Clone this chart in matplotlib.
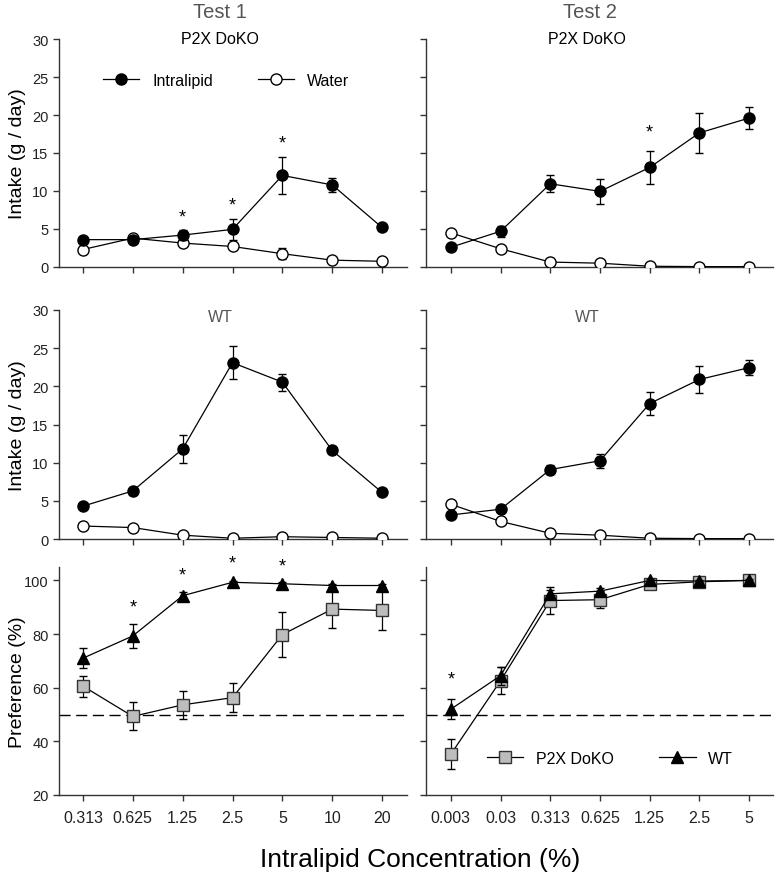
import numpy as np
import matplotlib
matplotlib.use("Agg")
import matplotlib.pyplot as plt

plt.rcParams['font.family'] = ['Liberation Sans', 'DejaVu Sans']

test1_labels = ['0.313', '0.625', '1.25', '2.5', '5', '10', '20']
test2_labels = ['0.003', '0.03', '0.313', '0.625', '1.25', '2.5', '5']

# Test 1, P2X DoKO intake
t1_ko_lipid = [3.6, 3.6, 4.2, 4.95, 12.05, 10.8, 5.2]
t1_ko_lipid_err = [0.3, 0.3, 0.7, 1.4, 2.4, 0.9, 0.3]
t1_ko_water = [2.3, 3.8, 3.15, 2.7, 1.75, 0.9, 0.75]
t1_ko_water_err = [0.2, 0.2, 0.3, 0.3, 0.7, 0.2, 0.1]
t1_ko_stars = [None, None, 6.6, 8.1, 16.3, None, None]

# Test 2, P2X DoKO intake
t2_ko_lipid = [2.6, 4.7, 10.95, 9.95, 13.1, 17.65, 19.6]
t2_ko_lipid_err = [0.3, 0.75, 1.1, 1.65, 2.2, 2.6, 1.4]
t2_ko_water = [4.5, 2.4, 0.65, 0.5, 0.1, 0.05, 0.05]
t2_ko_stars = [None, None, None, None, 17.7, None, None]

# Test 1, WT intake
t1_wt_lipid = [4.3, 6.3, 11.8, 23.1, 20.55, 11.6, 6.1]
t1_wt_lipid_err = [0.3, 0.3, 1.85, 2.2, 1.1, 0.3, 0.3]
t1_wt_water = [1.7, 1.5, 0.5, 0.1, 0.3, 0.2, 0.1]

# Test 2, WT intake
t2_wt_lipid = [3.15, 3.9, 9.1, 10.25, 17.75, 20.9, 22.45]
t2_wt_lipid_err = [0.3, 0.3, 0.6, 0.95, 1.45, 1.8, 1.0]
t2_wt_water = [4.55, 2.3, 0.75, 0.5, 0.1, 0.05, 0.05]

# Preference
t1_pref_wt = [71.0, 79.3, 94.3, 99.3, 98.75, 98.1, 98.1]
t1_pref_wt_err = [3.8, 4.5, 1.5, 0.5, 0.5, 0.5, 0.5]
t1_pref_ko = [60.6, 49.3, 53.6, 56.3, 79.8, 89.3, 88.8]
t1_pref_ko_err = [3.9, 5.2, 5.2, 5.4, 8.4, 7.1, 7.4]
t1_pref_stars = [None, 90.0, 102.1, 106.5, 105.2, None, None]

t2_pref_wt = [52.0, 64.5, 95.0, 96.0, 100.0, 99.75, 100.0]
t2_pref_wt_err = [3.8, 3.4, 1.5, 1.0, 0.5, 0.5, 0.5]
t2_pref_ko = [35.2, 62.6, 92.5, 92.8, 98.5, 99.5, 100.0]
t2_pref_ko_err = [5.6, 5.0, 5.2, 3.1, 0.5, 0.5, 0.5]
t2_pref_stars = [63.2, None, None, None, None, None, None]

x = np.arange(7)
axc = '#333333'

fig = plt.figure(figsize=(7.77, 8.78), dpi=100)
lefts = [59 / 777, 426 / 777]
widths = [348 / 777, 347 / 777]
bottoms = [1 - 268 / 878, 1 - 540 / 878, 1 - 796 / 878]
heights = [228 / 878, 229 / 878, 228 / 878]

axes = [[fig.add_axes([lefts[c], bottoms[r], widths[c], heights[r]]) for c in range(2)] for r in range(3)]


def style(ax, labels, show_x, show_y):
    for s in ['top', 'right']:
        ax.spines[s].set_visible(False)
    for s in ['left', 'bottom']:
        ax.spines[s].set_color(axc)
        ax.spines[s].set_linewidth(1.0)
    ax.tick_params(direction='out', length=4, width=1, color=axc, labelcolor='#222222')
    ax.tick_params(axis='y', labelsize=10.5)
    ax.tick_params(axis='x', labelsize=11.5, pad=7)
    ax.set_xticks(x)
    if show_x:
        ax.set_xticklabels(labels)
    else:
        ax.set_xticklabels([])
    if not show_y:
        ax.set_yticklabels([])


def intake(ax, lipid, lipid_err, water, water_err):
    w = ax.errorbar(x, water, yerr=water_err, color='black', lw=0.9, marker='o', ms=8,
                    mfc='white', mec='black', mew=1, capsize=3, elinewidth=0.9, zorder=3)
    f = ax.errorbar(x, lipid, yerr=lipid_err, color='black', lw=0.9, marker='o', ms=8,
                    mfc='black', mec='black', capsize=3, elinewidth=0.9, zorder=4)
    ax.set_ylim(0, 30)
    ax.set_yticks(range(0, 31, 5))
    return f[0], w[0]


def stars(ax, heights):
    for i, h in enumerate(heights):
        if h is not None:
            ax.text(x[i], h, '*', ha='center', va='center', fontsize=13, clip_on=False)


# Top row
ax = axes[0][0]
lf, lw_ = intake(ax, t1_ko_lipid, t1_ko_lipid_err, t1_ko_water, t1_ko_water_err)
stars(ax, t1_ko_stars)
ax.legend([lf, lw_], ['Intralipid', 'Water'], ncol=2, frameon=False, fontsize=11.5,
          loc='center', bbox_to_anchor=(0.48, 0.82), handlelength=2.3, columnspacing=2.8)

ax = axes[0][1]
intake(ax, t2_ko_lipid, t2_ko_lipid_err, t2_ko_water, [0.1] * 7)
stars(ax, t2_ko_stars)

# Middle row
intake(axes[1][0], t1_wt_lipid, t1_wt_lipid_err, t1_wt_water, [0.1] * 7)
intake(axes[1][1], t2_wt_lipid, t2_wt_lipid_err, t2_wt_water, [0.1] * 7)


def pref(ax, ko, ko_err, wt, wt_err):
    ax.axhline(50, color='black', lw=1, dashes=(8, 4), zorder=1)
    k = ax.errorbar(x, ko, yerr=ko_err, color='black', lw=0.9, marker='s', ms=8,
                    mfc='#bdbdbd', mec='#333333', mew=1, capsize=3, elinewidth=0.9, zorder=3)
    t = ax.errorbar(x, wt, yerr=wt_err, color='black', lw=0.9, marker='^', ms=9,
                    mfc='black', mec='black', capsize=3, elinewidth=0.9, zorder=4)
    ax.set_ylim(20, 105)
    ax.set_yticks(range(20, 101, 20))
    return k[0], t[0]


pref(axes[2][0], t1_pref_ko, t1_pref_ko_err, t1_pref_wt, t1_pref_wt_err)
stars(axes[2][0], t1_pref_stars)
hk, hw = pref(axes[2][1], t2_pref_ko, t2_pref_ko_err, t2_pref_wt, t2_pref_wt_err)
stars(axes[2][1], t2_pref_stars)
axes[2][1].legend([hk, hw], ['P2X DoKO', 'WT'], ncol=2, frameon=False, fontsize=11.5, loc='center',
                  bbox_to_anchor=(0.53, 0.16), handlelength=2.3, columnspacing=2.8)

for r in range(3):
    for c in range(2):
        ax = axes[r][c]
        ax.set_xlim(-0.48 if c == 0 else -0.5, 6.5 if c == 0 else 6.48)
        style(ax, test1_labels if c == 0 else test2_labels, r == 2, c == 0)

axes[0][0].set_ylabel('Intake (g / day)', fontsize=14)
axes[1][0].set_ylabel('Intake (g / day)', fontsize=14)
axes[2][0].set_ylabel('Preference (%)', fontsize=14)
for r in range(3):
    axes[r][0].yaxis.set_label_coords(-0.095, 0.5)

fig.text(220 / 777, 1 - 13 / 878, 'Test 1', ha='center', va='center', fontsize=14.5, color='#555555')
fig.text(590 / 777, 1 - 13 / 878, 'Test 2', ha='center', va='center', fontsize=14.5, color='#555555')
fig.text(220 / 777, 1 - 40 / 878, 'P2X DoKO', ha='center', va='center', fontsize=11.5)
fig.text(587 / 777, 1 - 40 / 878, 'P2X DoKO', ha='center', va='center', fontsize=11.5)
fig.text(220 / 777, 1 - 318 / 878, 'WT', ha='center', va='center', fontsize=11.5, color='#555555')
fig.text(587 / 777, 1 - 318 / 878, 'WT', ha='center', va='center', fontsize=11.5, color='#555555')
fig.text(420 / 777, 1 - 860 / 878, 'Intralipid Concentration (%)', ha='center', va='center', fontsize=19)

fig.savefig('out.png', dpi=100)
